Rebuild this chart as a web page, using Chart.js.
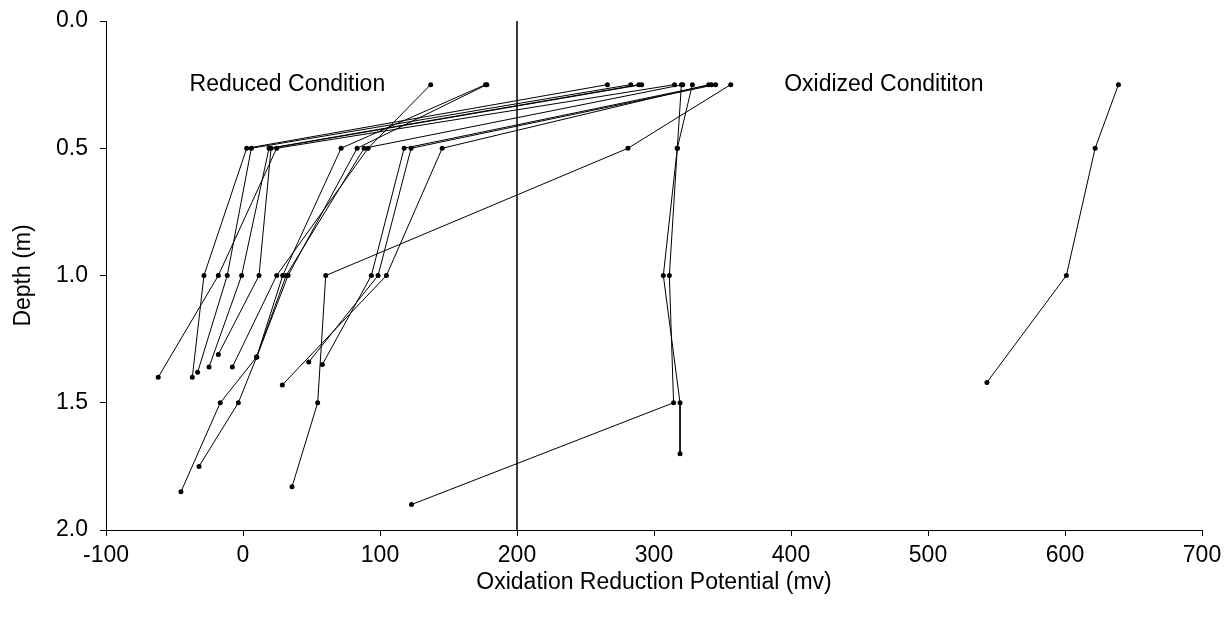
<!DOCTYPE html>
<html>
<head>
<meta charset="utf-8">
<script src="https://cdn.jsdelivr.net/npm/chart.js@4.4.1/dist/chart.umd.min.js"></script>
<style>
  html, body { margin: 0; padding: 0; background: #fff; }
  #wrap { width: 1230px; height: 618px; }
</style>
</head>
<body>
<div id="wrap"><canvas id="orpChart" width="1230" height="618"></canvas></div>
<script>
// ORP (mv) and depth (m) per sampling profile
const p01Orp = [356, 281, 60.4, 54.5, 35.8];
const p01Depth = [0.25, 0.5, 1.0, 1.5, 1.83];
const p02Orp = [320, 317, 306.8, 319, 319];
const p02Depth = [0.25, 0.5, 1.0, 1.5, 1.7];
const p03Orp = [328, 317, 311.2, 314.3, 123];
const p03Depth = [0.25, 0.5, 1.0, 1.5, 1.9];
const p04Orp = [266, 2.7, -28.5, -37];
const p04Depth = [0.25, 0.5, 1.0, 1.4];
const p05Orp = [283, 6.1, -11.5, -33.1];
const p05Depth = [0.25, 0.5, 1.0, 1.38];
const p06Orp = [289, 19, -1, -24.8];
const p06Depth = [0.25, 0.5, 1.0, 1.36];
const p07Orp = [291, 20.5, 11.7, -18];
const p07Depth = [0.25, 0.5, 1.0, 1.31];
const p08Orp = [315, 24.6, -18, -61.9];
const p08Depth = [0.25, 0.5, 1.0, 1.4];
const p09Orp = [137, 91.3, 24.6, -7.8];
const p09Depth = [0.25, 0.5, 1.0, 1.36];
const p10Orp = [177, 71.6, 29, 10, -16.6, -45.3];
const p10Depth = [0.25, 0.5, 1.0, 1.32, 1.5, 1.85];
const p11Orp = [178, 83.3, 32.9, 10, -3.4, -32.1];
const p11Depth = [0.25, 0.5, 1.0, 1.32, 1.5, 1.75];
const p12Orp = [321, 88.4, 31.5, 10];
const p12Depth = [0.25, 0.5, 1.0, 1.32];
const p13Orp = [342, 117.6, 93.7, 57.9];
const p13Depth = [0.25, 0.5, 1.0, 1.35];
const p14Orp = [345, 122.7, 98.6, 48];
const p14Depth = [0.25, 0.5, 1.0, 1.34];
const p15Orp = [340, 145.4, 104.7, 28.7];
const p15Depth = [0.25, 0.5, 1.0, 1.43];
const p16Orp = [639, 622, 601, 543];
const p16Depth = [0.25, 0.5, 1.0, 1.42];

// boundary between reduced and oxidized condition
const dividerOrp = 200;
const dividerDepth = [0, 2];

const xTicks = [-100, 0, 100, 200, 300, 400, 500, 600, 700];
const yTicks = [0, 0.5, 1.0, 1.5, 2.0];
const regionLabels = ['Reduced Condition', 'Oxidized Condititon'];

const profiles = [
    [p01Orp, p01Depth], [p02Orp, p02Depth], [p03Orp, p03Depth], [p04Orp, p04Depth],
    [p05Orp, p05Depth], [p06Orp, p06Depth], [p07Orp, p07Depth], [p08Orp, p08Depth],
    [p09Orp, p09Depth], [p10Orp, p10Depth], [p11Orp, p11Depth], [p12Orp, p12Depth],
    [p13Orp, p13Depth], [p14Orp, p14Depth], [p15Orp, p15Depth], [p16Orp, p16Depth]
];

const FONT = '"Liberation Sans", Arial, sans-serif';
const FSIZE = 23;

const datasets = profiles.map(function(p) {
    return {
        data: p[0].map(function(v, i) { return { x: v, y: p[1][i] }; }),
        showLine: true,
        borderColor: '#000',
        backgroundColor: '#000',
        borderWidth: 1,
        pointRadius: 2.5,
        pointBorderWidth: 0
    };
});

datasets.push({
    data: dividerDepth.map(function(d) { return { x: dividerOrp, y: d }; }),
    showLine: true,
    borderColor: '#222',
    borderWidth: 1,
    pointRadius: 0
});

// text labels for the two regions
const regionText = {
    id: 'regionText',
    afterDatasetsDraw(chart) {
        const ctx = chart.ctx;
        const xs = chart.scales.x, ys = chart.scales.y;
        ctx.save();
        ctx.font = FSIZE + 'px ' + FONT;
        ctx.fillStyle = '#000';
        ctx.textBaseline = 'middle';
        ctx.textAlign = 'left';
        ctx.fillText(regionLabels[0], xs.getPixelForValue(-39), ys.getPixelForValue(0.25));
        ctx.fillText(regionLabels[1], xs.getPixelForValue(395), ys.getPixelForValue(0.25));
        ctx.restore();
    }
};

new Chart(document.getElementById('orpChart').getContext('2d'), {
    type: 'scatter',
    data: { datasets: datasets },
    plugins: [regionText],
    options: {
        responsive: false,
        animation: false,
        devicePixelRatio: 1,
        layout: { padding: { top: 21, right: 28, left: 6, bottom: 18 } },
        plugins: { legend: { display: false }, tooltip: { enabled: false } },
        scales: {
            x: {
                type: 'linear',
                min: -100,
                max: 700,
                afterBuildTicks: function(s) { s.ticks = xTicks.map(function(v) { return { value: v }; }); },
                afterFit: function(s) { s.height = 70; s.paddingLeft = 0; s.paddingRight = 0; },
                grid: { drawOnChartArea: false, drawTicks: true, tickLength: 6, color: '#000', lineWidth: 1 },
                border: { display: true, color: '#000', width: 1 },
                ticks: { color: '#000', font: { family: FONT, size: FSIZE }, padding: 6, maxRotation: 0 },
                title: { display: true, text: 'Oxidation Reduction Potential (mv)', color: '#000', font: { family: FONT, size: FSIZE }, padding: 4 }
            },
            y: {
                type: 'linear',
                reverse: true,
                min: 0,
                max: 2,
                afterBuildTicks: function(s) { s.ticks = yTicks.map(function(v) { return { value: v }; }); },
                afterFit: function(s) { s.width = 100; s.paddingTop = 0; s.paddingBottom = 0; },
                grid: { drawOnChartArea: false, drawTicks: true, tickLength: 6, color: '#000', lineWidth: 1 },
                border: { display: true, color: '#000', width: 1 },
                ticks: { color: '#000', font: { family: FONT, size: FSIZE }, padding: 12, callback: function(v) { return Number(v).toFixed(1); } },
                title: { display: true, text: 'Depth (m)', color: '#000', font: { family: FONT, size: FSIZE }, padding: 4 }
            }
        }
    }
});
</script>
</body>
</html>
